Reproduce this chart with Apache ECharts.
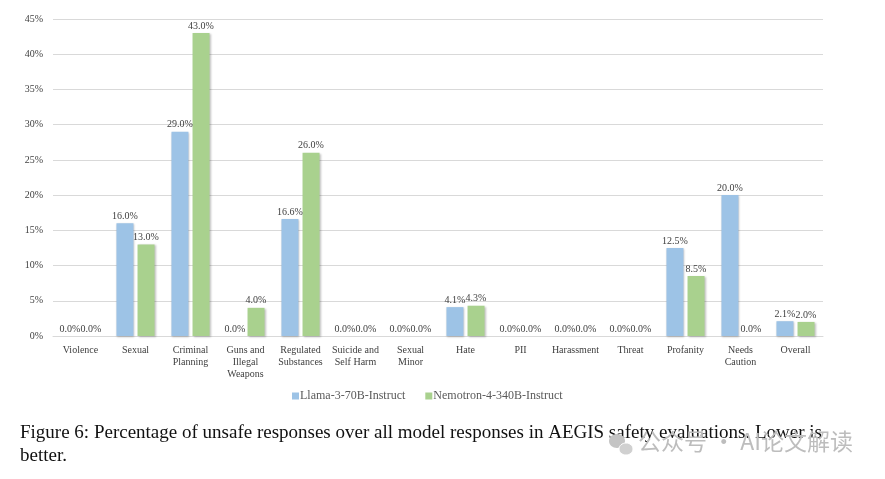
<!DOCTYPE html>
<html><head><meta charset="utf-8">
<script src="https://cdn.jsdelivr.net/npm/echarts@6/dist/echarts.min.js"></script>
<style>html,body{margin:0;padding:0;background:#fff}#c{width:885px;height:479px}</style>
</head><body><div id="c"></div>
<script>
const categories = ["Violence","Sexual","Criminal\nPlanning","Guns and\nIllegal\nWeapons","Regulated\nSubstances","Suicide and\nSelf Harm","Sexual\nMinor","Hate","PII","Harassment","Threat","Profanity","Needs\nCaution","Overall"];
const llama = [0.0,16.0,29.0,0.0,16.6,0.0,0.0,4.1,0.0,0.0,0.0,12.5,20.0,2.1];
const nemotron = [0.0,13.0,43.0,4.0,26.0,0.0,0.0,4.3,0.0,0.0,0.0,8.5,0.0,2.0];
const seriesNames = ["Llama-3-70B-Instruct","Nemotron-4-340B-Instruct"];
const yTicks = {min:0,max:45,interval:5};

const serif = '"Liberation Serif","DejaVu Serif",serif';
const chart = echarts.init(document.getElementById('c'));
const lbl = {show:true,position:'top',distance:2,fontFamily:serif,fontSize:10,color:'#404040',formatter:p=>p.value.toFixed(1)+'%'};
const shadow = {shadowColor:'rgba(0,0,0,0.25)',shadowBlur:2,shadowOffsetX:1,shadowOffsetY:1};
chart.setOption({
  animation:false,
  grid:{left:53,right:62,top:19,bottom:143,containLabel:false},
  legend:{top:385,left:287,itemWidth:7,itemHeight:7,itemGap:20,icon:'rect',
    textStyle:{fontFamily:serif,fontSize:12,color:'#595959',padding:[0,0,0,-4]},data:seriesNames},
  xAxis:{type:'category',data:categories,
    axisLine:{lineStyle:{color:'#d9d9d9'}},axisTick:{show:false},
    axisLabel:{interval:0,fontFamily:serif,fontSize:10,color:'#404040',lineHeight:12,margin:8}},
  yAxis:{type:'value',min:yTicks.min,max:yTicks.max,interval:yTicks.interval,
    axisLine:{show:false},axisTick:{show:false},
    splitLine:{lineStyle:{color:'#d9d9d9'}},
    axisLabel:{formatter:v=>v+'%',fontFamily:serif,fontSize:10,color:'#404040',margin:10}},
  series:[
    {name:seriesNames[0],type:'bar',data:llama,barWidth:17,barGap:'24%',itemStyle:Object.assign({color:'#9dc3e6'},shadow),label:lbl},
    {name:seriesNames[1],type:'bar',data:nemotron,barWidth:17,itemStyle:Object.assign({color:'#a9d18e'},shadow),label:lbl}
  ],
  graphic:[
    {type:'text',left:20,top:424,style:{text:'Figure 6: Percentage of unsafe responses over all model responses in AEGIS safety evaluations. Lower is',font:'19px '+serif,fill:'#111'}},
    {type:'text',left:20,top:447,style:{text:'better.',font:'19px '+serif,fill:'#111'}},
    {type:'text',left:638,top:430,style:{text:'公众号 · AI论文解读',font:'23px "Noto Sans CJK SC"',fill:'#bdbdbd'}},
    {type:'ellipse',shape:{cx:617,cy:441,rx:8,ry:7},style:{fill:'#c4c4c4'}},
    {type:'ellipse',shape:{cx:626,cy:449,rx:7,ry:6},style:{fill:'#d0d0d0',stroke:'#fff',lineWidth:1}}
  ]
});
</script></body></html>
